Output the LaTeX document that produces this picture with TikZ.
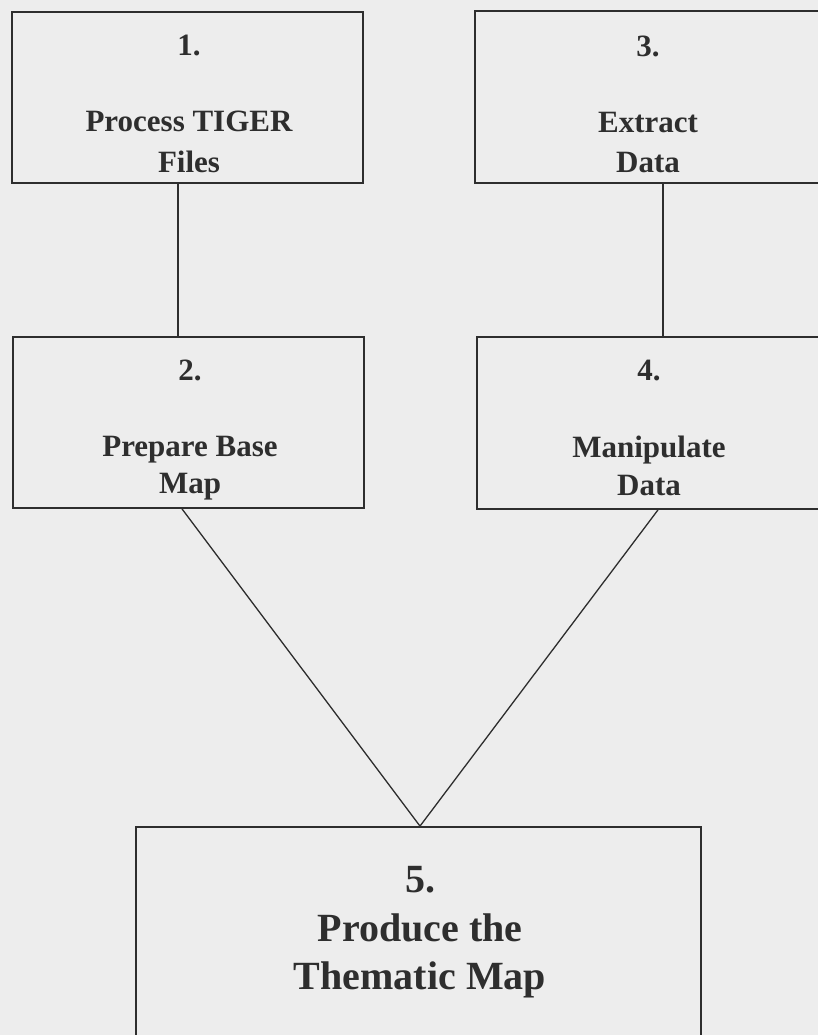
\documentclass[tikz,border=0pt]{standalone}
\usepackage{fontspec}
\setmainfont{Liberation Serif}
\definecolor{paper}{HTML}{EDEDED}
\definecolor{ink}{HTML}{2E2E2E}
\begin{document}
\begin{tikzpicture}[x=1pt,y=-1pt,
  stagebox/.style={draw=ink, line width=1.8pt, inner sep=0pt},
  steptext/.style={font=\fontsize{31}{31}\selectfont\bfseries, text=ink, anchor=base, inner sep=0pt},
  bigtext/.style={font=\fontsize{40}{40}\selectfont\bfseries, text=ink, anchor=base, inner sep=0pt},
  link/.style={draw=ink, line width=1.3pt}]
  \useasboundingbox (0,0) rectangle (818,1035);
  \clip (0,0) rectangle (818,1035);
  \fill[paper] (0,0) rectangle (818,1035);

  % stage boxes
  \node[stagebox, minimum width=351pt, minimum height=171pt] (b1) at (187.5,97.5) {};
  \node[stagebox, minimum width=351pt, minimum height=171pt] (b2) at (188.5,422.5) {};
  \node[stagebox, minimum width=346pt, minimum height=172pt] (b3) at (648,97) {};
  \node[stagebox, minimum width=344pt, minimum height=172pt] (b4) at (649,423) {};
  \node[stagebox, minimum width=565pt, minimum height=250pt] (b5) at (418.5,952) {};

  % box texts
  \node[steptext] (n1) at (189,56) {1.};
  \node[steptext] (l1a) at (189,132) {Process TIGER};
  \node[steptext] (l1b) at (189,172) {Files};

  \node[steptext] (n2) at (190,380) {2.};
  \node[steptext] (l2a) at (190,456) {Prepare Base};
  \node[steptext] (l2b) at (190,493) {Map};

  \node[steptext] (n3) at (648,57) {3.};
  \node[steptext] (l3a) at (648,133) {Extract};
  \node[steptext] (l3b) at (648,172) {Data};

  \node[steptext] (n4) at (649,380) {4.};
  \node[steptext] (l4a) at (649,457) {Manipulate};
  \node[steptext] (l4b) at (649,495) {Data};

  \node[bigtext] (n5) at (420,892) {5.};
  \node[bigtext] (l5a) at (420,941) {Produce the};
  \node[bigtext] (l5b) at (420,989) {Thematic Map};

  % connectors
  \draw[link] ([xshift=-9.5pt]b1.south) -- ([xshift=-9.5pt]b1.south |- b2.north);
  \draw[link] ([xshift=15pt]b3.south) -- ([xshift=15pt]b3.south |- b4.north);
  \draw[link] ([xshift=-6.5pt]b2.south) -- ([xshift=1.5pt]b5.north);
  \draw[link] ([xshift=9pt]b4.south) -- ([xshift=1.5pt]b5.north);
\end{tikzpicture}
\end{document}
